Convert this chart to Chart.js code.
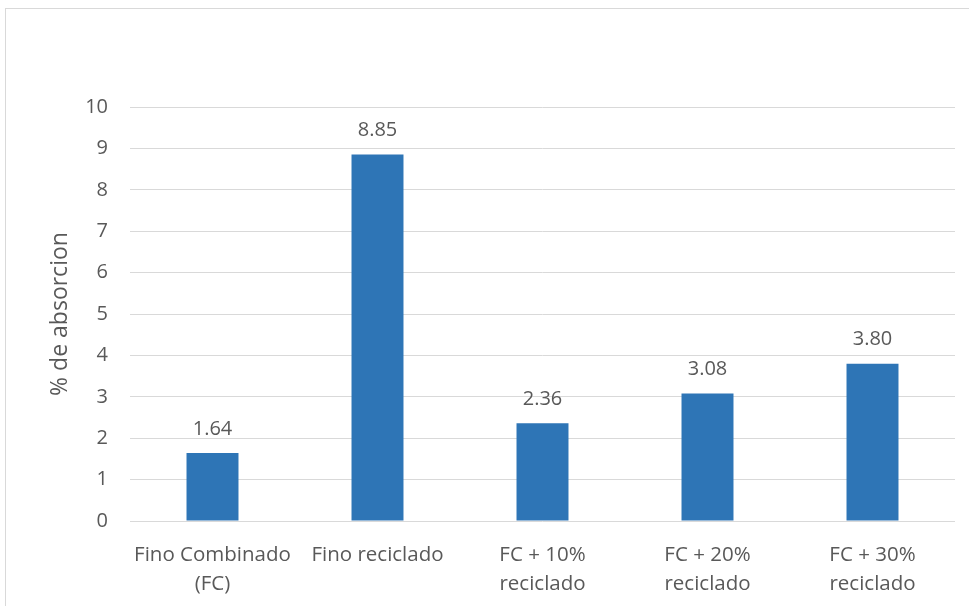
<!DOCTYPE html>
<html>
<head>
<meta charset="utf-8">
<script src="https://cdn.jsdelivr.net/npm/chart.js@4"></script>
<style>
  html, body { margin: 0; padding: 0; background: #fff; }
  #wrap { width: 969px; height: 606px; }
</style>
</head>
<body>
<div id="wrap"><canvas id="chart" width="969" height="606"></canvas></div>
<script>
// absorption per mix
let categories = [
  ["Fino Combinado", "(FC)"],
  "Fino reciclado",
  ["FC + 10%", "reciclado"],
  ["FC + 20%", "reciclado"],
  ["FC + 30%", "reciclado"]
];
let absorption = [1.64, 8.85, 2.36, 3.08, 3.80];
let yTicks = [0, 1, 2, 3, 4, 5, 6, 7, 8, 9, 10];

const FONT = "'Open Sans', Lato, sans-serif";
const TEXT = "#595959";

// light frame around the whole chart
const framePlugin = {
  id: "frame",
  beforeDraw(c) {
    const ctx = c.ctx;
    ctx.save();
    ctx.fillStyle = "#fff";
    ctx.fillRect(0, 0, c.width, c.height);
    ctx.strokeStyle = "#d9d9d9";
    ctx.lineWidth = 1;
    ctx.strokeRect(5.5, 8.5, 1000, 700);
    ctx.restore();
  }
};

// value labels on top of each bar
const valueLabels = {
  id: "valueLabels",
  afterDatasetsDraw(c) {
    const ctx = c.ctx;
    const meta = c.getDatasetMeta(0);
    ctx.save();
    ctx.fillStyle = TEXT;
    ctx.font = "20px " + FONT;
    ctx.textAlign = "center";
    ctx.textBaseline = "middle";
    meta.data.forEach((bar, i) => {
      ctx.fillText(absorption[i].toFixed(2), bar.x, bar.y - 24);
    });
    ctx.restore();
  }
};

const ctx = document.getElementById("chart").getContext("2d");

new Chart(ctx, {
  type: "bar",
  data: {
    labels: categories,
    datasets: [{
      data: absorption,
      backgroundColor: "#2E75B6",
      barPercentage: 0.63,
      categoryPercentage: 0.5
    }]
  },
  options: {
    responsive: false,
    animation: false,
    layout: { padding: { left: 44, right: 14, top: 107, bottom: 0 } },
    plugins: {
      legend: { display: false },
      tooltip: { enabled: false }
    },
    scales: {
      x: {
        grid: { display: false },
        border: { display: false },
        ticks: {
          color: TEXT,
          font: { family: FONT, size: 20.5, lineHeight: 1.4 },
          padding: 12,
          maxRotation: 0,
          autoSkip: false
        },
        afterFit: s => { s.height = 85; }
      },
      y: {
        min: 0,
        max: 10,
        afterBuildTicks: s => { s.ticks = yTicks.map(v => ({ value: v })); },
        grid: { color: "#d9d9d9", lineWidth: 1, drawTicks: false },
        border: { display: false },
        ticks: {
          color: TEXT,
          font: { family: FONT, size: 20 },
          padding: 22
        },
        title: {
          display: true,
          text: "% de absorcion",
          color: TEXT,
          font: { family: FONT, size: 23 },
          padding: { top: 3, bottom: 0 }
        },
        afterFit: s => { s.width = 86; }
      }
    }
  },
  plugins: [framePlugin, valueLabels]
});
</script>
</body>
</html>
